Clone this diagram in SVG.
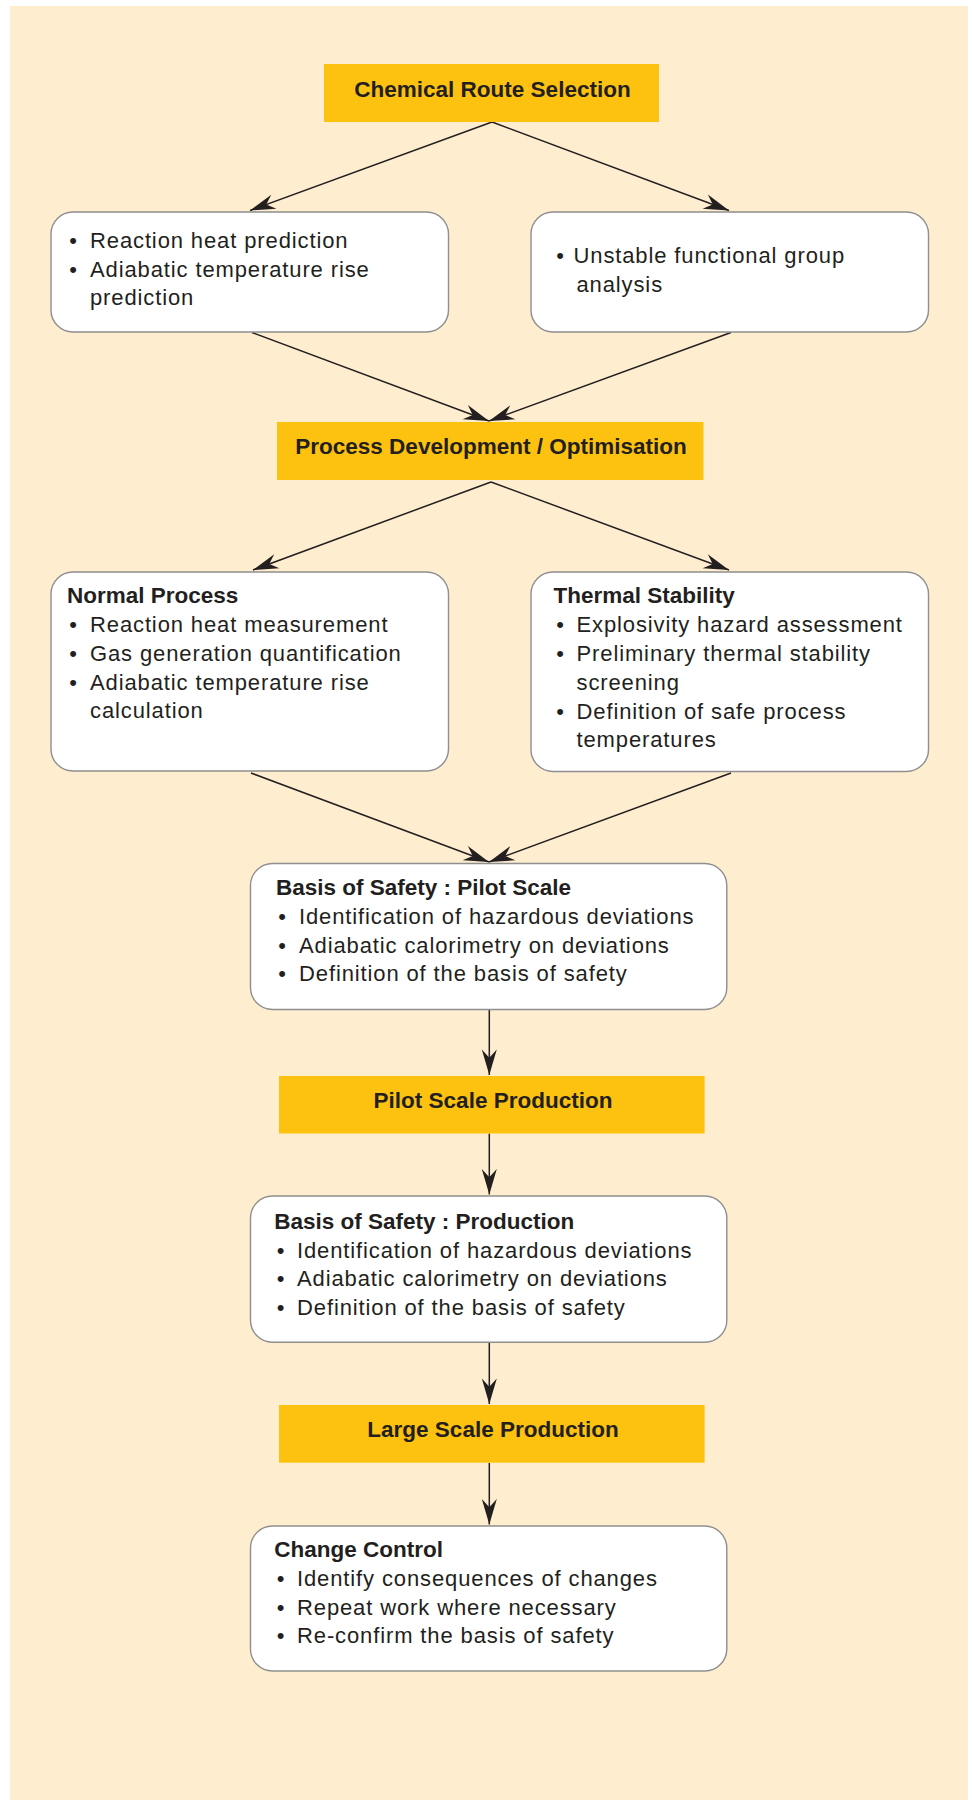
<svg xmlns="http://www.w3.org/2000/svg" width="972" height="1800" viewBox="0 0 972 1800">
<defs>
<style>
.bg{fill:#feedcf}
.ybox{fill:#fdc20f}
.wbox{fill:#ffffff;stroke:#8f8f8f;stroke-width:1.4}
.h{font-family:"Liberation Sans",Arial,sans-serif;font-weight:bold;font-size:22.5px;fill:#231f20}
.t{font-family:"Liberation Sans",Arial,sans-serif;font-size:22px;letter-spacing:0.88px;fill:#231f20}
.b{font-family:"Liberation Sans",Arial,sans-serif;font-size:22px;fill:#231f20;text-anchor:middle}
.c{text-anchor:middle}
.conn{stroke:#231f20;stroke-width:1.5;fill:none;marker-end:url(#ah)}
</style>
<marker id="ah" markerUnits="userSpaceOnUse" markerWidth="30" markerHeight="20" viewBox="-24 -8 26 16" refX="0" refY="0" orient="auto">
<path d="M0,0 L-22,-6.5 L-15,0 L-22,6.5 Z" fill="#231f20"/>
</marker>
</defs>
<rect class="bg" x="10" y="6" width="958" height="1794"/>

<g id="connectors">
<line class="conn" x1="492" y1="122" x2="250" y2="210.5"/>
<line class="conn" x1="492" y1="122" x2="729" y2="210.5"/>
<line class="conn" x1="252" y1="332.5" x2="489" y2="421"/>
<line class="conn" x1="731" y1="332.5" x2="489" y2="421"/>
<line class="conn" x1="491" y1="482" x2="253" y2="570"/>
<line class="conn" x1="491" y1="482" x2="729" y2="570"/>
<line class="conn" x1="251" y1="773" x2="489" y2="862"/>
<line class="conn" x1="731" y1="773" x2="489" y2="862"/>
<line class="conn" x1="489.3" y1="1009.5" x2="489.3" y2="1075"/>
<line class="conn" x1="489.3" y1="1133.5" x2="489.3" y2="1194.5"/>
<line class="conn" x1="489.3" y1="1342.5" x2="489.3" y2="1404"/>
<line class="conn" x1="489.3" y1="1463" x2="489.3" y2="1524.5"/>
</g>

<g id="chemical-route">
<rect class="ybox" x="324" y="64" width="335" height="58"/>
<text class="h c" x="492.5" y="97">Chemical Route Selection</text>
</g>

<g id="prediction">
<rect class="wbox" x="51" y="212" width="397.5" height="120" rx="22"/>
<text class="b" x="73" y="248">•</text>
<text class="t" x="90" y="248">Reaction heat prediction</text>
<text class="b" x="73" y="277">•</text>
<text class="t" x="90" y="277">Adiabatic temperature rise</text>
<text class="t" x="90" y="305">prediction</text>
</g>

<g id="functional-group">
<rect class="wbox" x="531" y="212" width="397.5" height="120" rx="22"/>
<text class="b" x="560" y="263">•</text>
<text class="t" x="573.5" y="263">Unstable functional group</text>
<text class="t" x="576.5" y="292">analysis</text>
</g>

<g id="process-development">
<rect class="ybox" x="277" y="422" width="426.5" height="58"/>
<text class="h c" x="491" y="454">Process Development / Optimisation</text>
</g>

<g id="normal-process">
<rect class="wbox" x="51" y="572" width="397.5" height="199" rx="22"/>
<text class="h" x="67" y="603">Normal Process</text>
<text class="b" x="73" y="632">•</text>
<text class="t" x="90" y="632">Reaction heat measurement</text>
<text class="b" x="73" y="661">•</text>
<text class="t" x="90" y="661">Gas generation quantification</text>
<text class="b" x="73" y="690">•</text>
<text class="t" x="90" y="690">Adiabatic temperature rise</text>
<text class="t" x="90" y="718">calculation</text>
</g>

<g id="thermal-stability">
<rect class="wbox" x="531" y="572" width="397.5" height="199.5" rx="22"/>
<text class="h" x="553.5" y="603">Thermal Stability</text>
<text class="b" x="560" y="632">•</text>
<text class="t" x="576.5" y="632">Explosivity hazard assessment</text>
<text class="b" x="560" y="661">•</text>
<text class="t" x="576.5" y="661">Preliminary thermal stability</text>
<text class="t" x="576.5" y="690">screening</text>
<text class="b" x="560" y="718.5">•</text>
<text class="t" x="576.5" y="718.5">Definition of safe process</text>
<text class="t" x="576.5" y="747">temperatures</text>
</g>

<g id="basis-pilot">
<rect class="wbox" x="250.5" y="863.5" width="476.3" height="146" rx="22"/>
<text class="h" x="276" y="895">Basis of Safety : Pilot Scale</text>
<text class="b" x="282" y="924">•</text>
<text class="t" x="299" y="924">Identification of hazardous deviations</text>
<text class="b" x="282" y="953">•</text>
<text class="t" x="299" y="953">Adiabatic calorimetry on deviations</text>
<text class="b" x="282" y="981">•</text>
<text class="t" x="299" y="981">Definition of the basis of safety</text>
</g>

<g id="pilot-production">
<rect class="ybox" x="279" y="1076" width="425.6" height="57.5"/>
<text class="h c" x="493" y="1108">Pilot Scale Production</text>
</g>

<g id="basis-production">
<rect class="wbox" x="250.5" y="1196" width="476.3" height="146.3" rx="22"/>
<text class="h" x="274.3" y="1229">Basis of Safety : Production</text>
<text class="b" x="280.5" y="1257.5">•</text>
<text class="t" x="297" y="1257.5">Identification of hazardous deviations</text>
<text class="b" x="280.5" y="1286">•</text>
<text class="t" x="297" y="1286">Adiabatic calorimetry on deviations</text>
<text class="b" x="280.5" y="1314.7">•</text>
<text class="t" x="297" y="1314.7">Definition of the basis of safety</text>
</g>

<g id="large-production">
<rect class="ybox" x="279" y="1405" width="425.6" height="57.7"/>
<text class="h c" x="493" y="1436.7">Large Scale Production</text>
</g>

<g id="change-control">
<rect class="wbox" x="250.5" y="1526" width="476.3" height="145" rx="22"/>
<text class="h" x="274.3" y="1557.3">Change Control</text>
<text class="b" x="280.5" y="1586">•</text>
<text class="t" x="297" y="1586">Identify consequences of changes</text>
<text class="b" x="280.5" y="1615">•</text>
<text class="t" x="297" y="1615">Repeat work where necessary</text>
<text class="b" x="280.5" y="1643.3">•</text>
<text class="t" x="297" y="1643.3">Re-confirm the basis of safety</text>
</g>
</svg>
